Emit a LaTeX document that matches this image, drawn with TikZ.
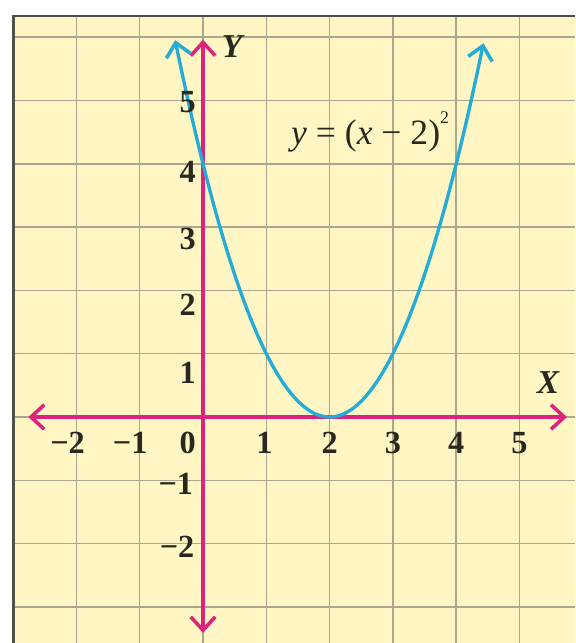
\documentclass[tikz,border=0pt]{standalone}
\usepackage{fontspec}
\setmainfont{Liberation Serif}
\usetikzlibrary{arrows.meta}
\definecolor{paper}{RGB}{255,246,195}
\definecolor{gridc}{RGB}{172,166,142}
\definecolor{axisc}{RGB}{220,35,125}
\definecolor{curvec}{RGB}{35,172,215}
\definecolor{framec}{RGB}{80,80,75}
\definecolor{textc}{RGB}{40,40,30}
\begin{document}
\begin{tikzpicture}[
  barb/.tip={Straight Barb[length=6pt,width=11pt,line width=1.6pt]},
  ticklbl/.style={text=textc, font=\fontsize{14.5}{14.5}\selectfont\bfseries, inner sep=0pt},
  axisline/.style={axisc, line width=1.8pt, barb-barb},
  curveline/.style={curvec, line width=1.5pt, barb-barb},
  gridline/.style={gridc, line width=0.7pt},
  axlbl/.style={text=textc, font=\fontsize{15}{15}\selectfont\bfseries\itshape, inner sep=0pt}
]
\useasboundingbox (-3.207,-3.570) rectangle (5.877,6.588);
\fill[white] (-3.207,-3.570) rectangle (5.877,6.588);
\fill[paper] (-3,-3.570) rectangle (5.877,6.335);
% grid
\foreach \x in {-2,...,5} \draw[gridline] (\x,-3.570) -- (\x,6.335);
\foreach \y in {-3,...,6} \draw[gridline] (-3,\y) -- (5.877,\y);
% frame
\draw[framec, line width=1.3pt] (-3,-3.570) -- (-3,6.335) -- (5.877,6.335);
% axes
\coordinate (xl) at (-2.76,0);
\coordinate (xr) at (5.75,0);
\coordinate (yb) at (0,-3.41);
\coordinate (yt) at (0,5.96);
\draw[axisline] (xl) -- (xr);
\draw[axisline] (yb) -- (yt);
% curve
\draw[curveline] plot[domain=-0.44:4.43, samples=80, smooth] (\x,{(\x-2)^2});
% axis labels
\node[axlbl] (Y) at (0.46,5.85) {Y};
\node[axlbl] (X) at (5.45,0.55) {X};
% equation
\node[text=textc, font=\fontsize{16}{16}\selectfont, inner sep=0pt] (eq) at (2.64,4.5)
  {\textit{y} = (\textit{x} − 2)\raisebox{1.3ex}{\fontsize{8}{8}\selectfont 2}};
% x tick labels
\node[ticklbl] (xm2) at (-2.14,-0.41) {−2};
\node[ticklbl] (xm1) at (-1.15,-0.41) {−1};
\node[ticklbl] (x0) at (-0.24,-0.41) {0};
\node[ticklbl] (x1) at (0.97,-0.41) {1};
\node[ticklbl] (x2) at (2.0,-0.41) {2};
\node[ticklbl] (x3) at (3.0,-0.41) {3};
\node[ticklbl] (x4) at (4.0,-0.41) {4};
\node[ticklbl] (x5) at (5.0,-0.41) {5};
% y tick labels
\node[ticklbl] (y5) at (-0.24,4.98) {5};
\node[ticklbl] (y4) at (-0.24,3.87) {4};
\node[ticklbl] (y3) at (-0.24,2.81) {3};
\node[ticklbl] (y2) at (-0.24,1.78) {2};
\node[ticklbl] (y1) at (-0.24,0.69) {1};
\node[ticklbl] (ym1) at (-0.43,-1.06) {−1};
\node[ticklbl] (ym2) at (-0.41,-2.05) {−2};
\end{tikzpicture}
\end{document}
